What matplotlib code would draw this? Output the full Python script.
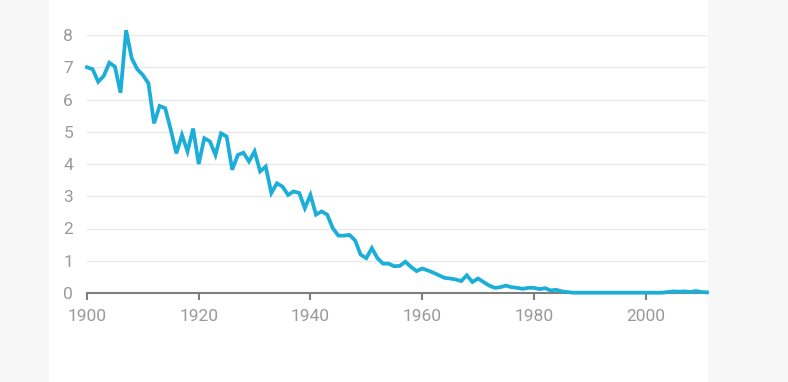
import matplotlib.pyplot as plt
from matplotlib.patches import Rectangle

plt.rcParams["font.family"] = ["Roboto", "DejaVu Sans"]

years = list(range(1900, 2012))
values = [
    7.0, 6.94, 6.55, 6.73, 7.14, 7.02, 6.21, 8.15, 7.28, 6.94,
    6.76, 6.5, 5.26, 5.8, 5.73, 5.06, 4.33, 4.9, 4.39, 5.1,
    4.0, 4.8, 4.7, 4.28, 4.95, 4.85, 3.82, 4.28, 4.35, 4.08,
    4.39, 3.77, 3.92, 3.1, 3.4, 3.3, 3.04, 3.15, 3.1, 2.63,
    3.04, 2.43, 2.53, 2.43, 2.01, 1.78, 1.78, 1.8, 1.63, 1.19,
    1.08, 1.39, 1.08, 0.91, 0.91, 0.83, 0.84, 0.97, 0.81, 0.68,
    0.76, 0.7, 0.63, 0.55, 0.47, 0.45, 0.42, 0.37, 0.55, 0.34,
    0.45, 0.34, 0.23, 0.16, 0.18, 0.23, 0.18, 0.16, 0.13, 0.16,
    0.16, 0.12, 0.15, 0.08, 0.1, 0.05, 0.03, 0.01, 0.01, 0.01,
    0.01, 0.01, 0.01, 0.01, 0.01, 0.01, 0.01, 0.01, 0.01, 0.01,
    0.01, 0.01, 0.01, 0.01, 0.03, 0.05, 0.04, 0.05, 0.03, 0.06,
    0.03, 0.02,
]
x_ticks = [1900, 1920, 1940, 1960, 1980, 2000]
y_ticks = [0, 1, 2, 3, 4, 5, 6, 7, 8]

fig = plt.figure(figsize=(7.88, 3.82), dpi=100, facecolor="#f7f7f7")
# white panel behind the chart, grey margins either side
panel = Rectangle((49 / 788, 0), 659 / 788, 1, transform=fig.transFigure,
                  facecolor="white", edgecolor="none", zorder=-10)
fig.add_artist(panel)
ax = fig.add_axes([87 / 788, 89 / 382, 620 / 788, 258 / 382])
ax.set_zorder(1)
ax.patch.set_alpha(0)

ax.plot(years, values, color="#1aaed8", linewidth=2.7, solid_joinstyle="miter",
        clip_on=False, zorder=3)

ax.set_xlim(1900, 2011)
ax.set_ylim(0, 8)
ax.set_xticks(x_ticks)
ax.set_yticks(y_ticks)
ax.grid(True, axis="y", color="#e9e9e9", linewidth=1.0)
ax.set_axisbelow(True)

for side in ["top", "right", "left"]:
    ax.spines[side].set_visible(False)
ax.spines["bottom"].set_color("#7e7e7e")
ax.spines["bottom"].set_linewidth(1.5)

ax.tick_params(axis="x", length=5, width=1.5, color="#7e7e7e", pad=6.5,
               labelsize=12.5, labelcolor="#9a9a9a")
ax.tick_params(axis="y", length=0, pad=10, labelsize=12.5, labelcolor="#9a9a9a")

fig.savefig("out.png", dpi=100, facecolor=fig.get_facecolor())
